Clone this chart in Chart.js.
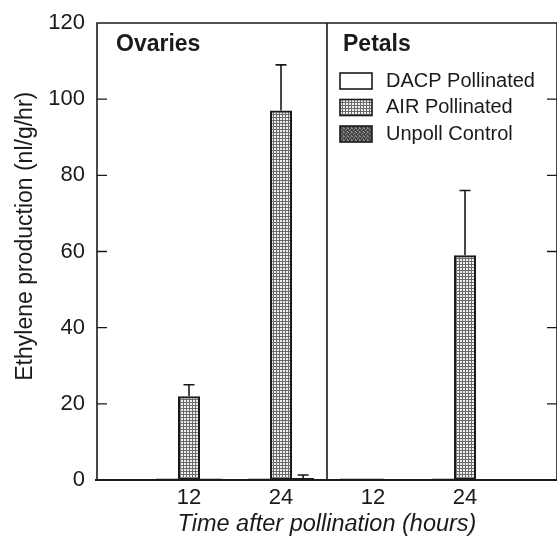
<!DOCTYPE html>
<html>
<head>
<meta charset="utf-8">
<script src="https://cdn.jsdelivr.net/npm/chart.js@4.4.1/dist/chart.umd.min.js"></script>
<style>
  body { margin: 0; background: #fff; }
  #wrap { width: 557px; height: 537px; position: relative; }
</style>
</head>
<body>
<div id="wrap"><canvas id="myBarChart"></canvas></div>
<script>
// groups: ovaries 12 / 24, petals 12 / 24 (blank slots at both ends keep the spacing)
const timeLabels = ['', '12', '24', '12', '24', ''];
const panelNames = ['Ovaries', 'Petals'];
const seriesNames = ['DACP Pollinated', 'AIR Pollinated', 'Unpoll Control'];

const dacpValues   = [null, 0.4, 0.4, 0.4, 0.4, null];
const airValues    = [null, 22, 97, 0.4, 59, null];
const unpollValues = [null, 0.4, 0.5, 0, 0, null];

// upper error (amount above the bar)
const dacpErr   = [null, null, null, null, null, null];
const airErr    = [null, 3, 12, null, 17, null];
const unpollErr = [null, null, 0.8, null, null, null];

const yTicks = [0, 20, 40, 60, 80, 100, 120];
const yTitle = 'Ethylene production (nl/g/hr)';

const fontFam = '"Liberation Sans", Arial, sans-serif';
const lineColor = '#1a1a1a';

function makePattern(size, bg, fg, dots) {
    const c = document.createElement('canvas');
    c.width = size; c.height = size;
    const g = c.getContext('2d');
    g.fillStyle = bg;
    g.fillRect(0, 0, size, size);
    g.fillStyle = fg;
    dots.forEach(d => g.fillRect(d[0], d[1], d[2], d[3]));
    return g.createPattern(c, 'repeat');
}

const ctx = document.getElementById('myBarChart').getContext('2d');
const airPattern = makePattern(3, '#f0f0f0', '#6a6a6a', [[0, 0, 3, 1], [0, 0, 1, 3]]);
const unpollPattern = makePattern(4, '#454545', '#8c8c8c',
    [[0, 0, 1, 1], [2, 1, 1, 1], [1, 2, 1, 1], [3, 3, 1, 1], [3, 0, 1, 1]]);

const framePlugin = {
    id: 'frame',
    afterDatasetsDraw(chart) {
        const c = chart.ctx;
        const a = chart.chartArea;
        const xs = chart.scales.x;
        const ys = chart.scales.y;
        const divX = xs.getPixelForValue(2.5);
        c.save();
        c.strokeStyle = lineColor;

        // error bars
        c.lineWidth = 1.6;
        chart.data.datasets.forEach((ds, di) => {
            const meta = chart.getDatasetMeta(di);
            ds.errors.forEach((e, i) => {
                if (e == null || ds.data[i] == null) return;
                const bar = meta.data[i];
                const yTop = ys.getPixelForValue(ds.data[i] + e);
                c.beginPath();
                c.moveTo(bar.x, bar.y);
                c.lineTo(bar.x, yTop);
                c.moveTo(bar.x - 5.5, yTop);
                c.lineTo(bar.x + 5.5, yTop);
                c.stroke();
            });
        });

        // frame and panel divider
        c.lineWidth = 1.6;
        c.beginPath();
        c.moveTo(a.left, a.bottom);
        c.lineTo(a.left, a.top);
        c.lineTo(a.right, a.top);
        c.lineTo(a.right, a.bottom);
        c.moveTo(divX, a.top);
        c.lineTo(divX, a.bottom);
        c.stroke();
        c.lineWidth = 2;
        c.beginPath();
        c.moveTo(a.left - 2, a.bottom);
        c.lineTo(a.right, a.bottom);
        c.stroke();

        // inward ticks on both sides
        c.lineWidth = 1.4;
        yTicks.forEach(v => {
            if (v === 0 || v === 120) return;
            const y = ys.getPixelForValue(v);
            c.beginPath();
            c.moveTo(a.left, y); c.lineTo(a.left + 10, y);
            c.moveTo(a.right, y); c.lineTo(a.right - 10, y);
            c.stroke();
        });

        c.fillStyle = lineColor;
        c.textBaseline = 'middle';

        // y title (sits a little above the middle in the original)
        c.save();
        c.font = '23px ' + fontFam;
        c.textAlign = 'center';
        c.translate(26, ys.getPixelForValue(64));
        c.rotate(-Math.PI / 2);
        c.fillText(yTitle, 0, 0);
        c.restore();

        // panel names
        c.font = 'bold 23px ' + fontFam;
        c.textAlign = 'left';
        c.fillText(panelNames[0], a.left + 19, a.top + 22);
        c.fillText(panelNames[1], divX + 16, a.top + 22);

        // legend
        c.font = '20px ' + fontFam;
        chart.data.datasets.forEach((ds, di) => {
            const bx = divX + 13;
            const by = a.top + 50 + di * 26.5;
            c.fillStyle = ds.backgroundColor;
            c.fillRect(bx, by, 32, 16);
            c.lineWidth = 1.6;
            c.strokeRect(bx, by, 32, 16);
            c.fillStyle = lineColor;
            c.fillText(ds.label, bx + 46, by + 8);
        });
        c.restore();
    }
};

const myBarChart = new Chart(ctx, {
    type: 'bar',
    data: {
        labels: timeLabels,
        datasets: [
            { label: seriesNames[0], data: dacpValues, errors: dacpErr, backgroundColor: '#ffffff' },
            { label: seriesNames[1], data: airValues, errors: airErr, backgroundColor: airPattern },
            { label: seriesNames[2], data: unpollValues, errors: unpollErr, backgroundColor: unpollPattern }
        ]
    },
    options: {
        responsive: true,
        maintainAspectRatio: false,
        animation: false,
        layout: { padding: { top: 23, right: -4, left: 0, bottom: 0 } },
        datasets: {
            bar: {
                borderColor: lineColor,
                borderWidth: 2.2,
                borderSkipped: false,
                categoryPercentage: 0.72,
                barPercentage: 1.0
            }
        },
        plugins: {
            legend: { display: false },
            tooltip: { enabled: false }
        },
        scales: {
            x: {
                type: 'category',
                offset: false,
                grid: { display: false },
                border: { display: false },
                ticks: {
                    color: lineColor,
                    font: { size: 22, family: fontFam },
                    padding: -3,
                    maxRotation: 0,
                    autoSkip: false
                },
                title: {
                    display: true,
                    text: 'Time after pollination (hours)',
                    color: lineColor,
                    font: { size: 23.5, style: 'italic', family: fontFam },
                    padding: { top: 0, bottom: -2 }
                },
                afterFit(scale) { scale.height = 57; }
            },
            y: {
                min: 0,
                max: 120,
                grid: { display: false },
                border: { display: false },
                afterBuildTicks(scale) { scale.ticks = yTicks.map(v => ({ value: v })); },
                ticks: {
                    color: lineColor,
                    font: { size: 22, family: fontFam },
                    padding: 4
                },
                afterFit(scale) { scale.width = 97; }
            }
        }
    },
    plugins: [framePlugin]
});
</script>
</body>
</html>
